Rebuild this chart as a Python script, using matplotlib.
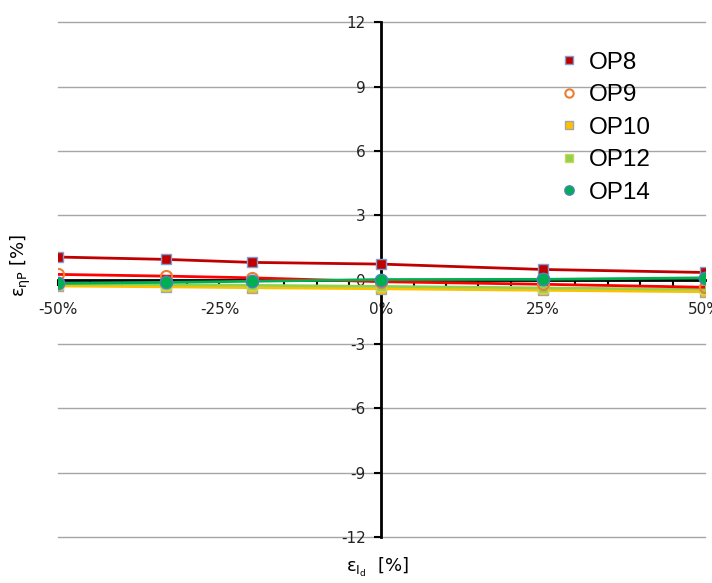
import matplotlib
matplotlib.use("Agg")
import matplotlib.pyplot as plt
from matplotlib.ticker import MultipleLocator, FuncFormatter

plt.rcParams["mathtext.default"] = "regular"

x = [-50, -33.3, -20, 0, 25, 50]
op8 = [1.05, 0.94, 0.80, 0.72, 0.47, 0.33]
op9 = [0.24, 0.16, 0.08, -0.10, -0.22, -0.36]
op10 = [-0.30, -0.34, -0.38, -0.43, -0.50, -0.57]
op12 = [-0.20, -0.24, -0.27, -0.32, -0.39, -0.46]
op14 = [-0.18, -0.13, -0.08, 0.00, 0.01, 0.08]

yticks = [-12, -9, -6, -3, 0, 3, 6, 9, 12]
xticks = [-50, -25, 0, 25, 50]

fig = plt.figure(figsize=(7.12, 5.83), dpi=100)
ax = fig.add_axes([0.081, 0.079, 0.909, 0.883])

ax.plot(x, op8, color="#C00000", lw=2, marker="s", ms=7, mfc="#C00000", mec="#7F9FCF", mew=1, label="OP8", zorder=5)
ax.plot(x, op9, color="#FF0000", lw=2, marker="o", ms=8, mfc="none", mec="#ED7D31", mew=1.5, label="OP9", zorder=4)
ax.plot(x, op10, color="#FFC000", lw=2, marker="s", ms=7, mfc="#FFC000", mec="#A5A5A5", mew=1, label="OP10", zorder=3)
ax.plot(x, op12, color="#92D050", lw=2, marker="s", ms=7, mfc="#92D050", mec="#C9D94F", mew=1, label="OP12", zorder=3)
ax.plot(x, op14, color="#00B050", lw=2, marker="o", ms=9, mfc="#00B050", mec="#4F81BD", mew=1, label="OP14", zorder=6)

ax.set_xlim(-50, 50)
ax.set_ylim(-12, 12)
ax.set_yticks(yticks)
ax.set_xticks(xticks)
ax.xaxis.set_minor_locator(MultipleLocator(5))
ax.xaxis.set_major_formatter(FuncFormatter(lambda v, p: f"{int(v)}%"))
ax.yaxis.set_major_formatter(FuncFormatter(lambda v, p: f"{int(v)}"))

for y in yticks:
    if y != 0:
        ax.axhline(y, color="#A6A6A6", lw=1, zorder=0, clip_on=False)

for s in ["top", "right"]:
    ax.spines[s].set_visible(False)
ax.spines["left"].set_position(("data", 0))
ax.spines["bottom"].set_position(("data", 0))
ax.spines["left"].set_linewidth(2)
ax.spines["bottom"].set_linewidth(2)
ax.spines["left"].set_zorder(2)
ax.spines["bottom"].set_zorder(2)

ax.tick_params(axis="x", which="both", direction="out", length=4, width=1.5, labelsize=11, pad=12, colors="black")
ax.tick_params(axis="y", which="major", direction="out", length=5, width=1.5, labelsize=11, pad=6)
for lab in ax.get_xticklabels() + ax.get_yticklabels():
    lab.set_color("#222222")

leg = ax.legend(loc="upper left", bbox_to_anchor=(0.745, 0.985), frameon=False,
                prop={"family": "Liberation Sans", "size": 17.5}, handlelength=0.6,
                handletextpad=0.5, labelspacing=0.43, markerscale=0.75)
for h in leg.legend_handles:
    h.set_linestyle("none")

fig.text(0.03, 0.545, r"$\varepsilon_{\eta P}$ [%]", rotation=90, fontsize=13, ha="center", va="center")
fig.text(0.53, 0.026, r"$\varepsilon_{I_d}$  [%]", fontsize=13, ha="center", va="center")

fig.savefig("out.png", dpi=100)
